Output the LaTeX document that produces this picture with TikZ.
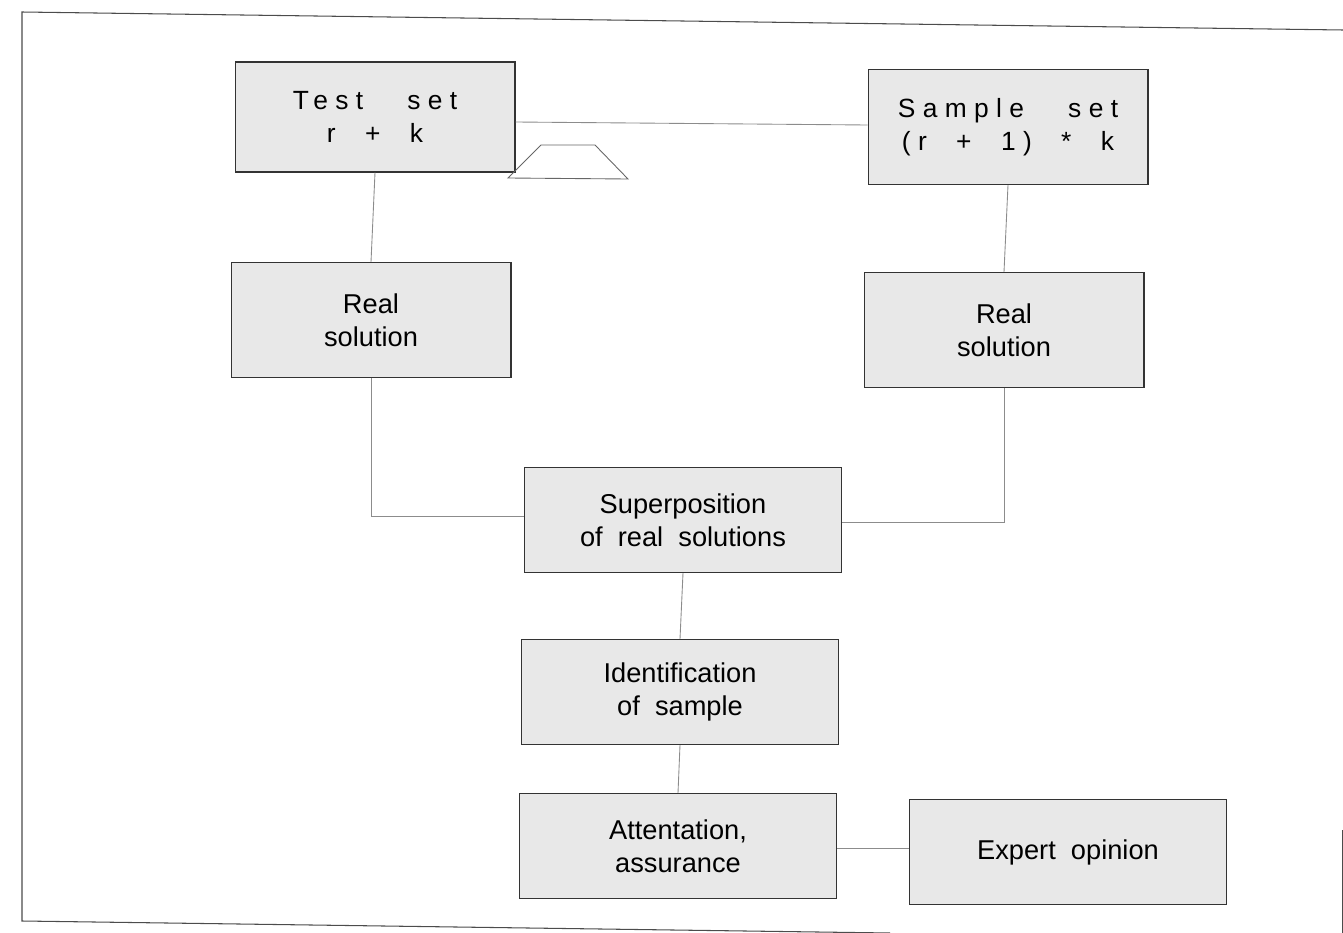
\documentclass[tikz,border=0pt]{standalone}
\usepackage{fontspec}
\setmainfont{Liberation Sans}
\usepackage{xcolor}
\usetikzlibrary{positioning}

\begin{document}
\begin{tikzpicture}[x=0.02cm,y=-0.02cm,
    box/.style={draw=black!80,fill=black!9,line width=0.6pt,minimum width=5.6cm,minimum height=2.2cm,
                align=center,font=\fontsize{15.5}{19}\selectfont},
    widebox/.style={box,minimum width=6.35cm,minimum height=2.1cm},
    spaced/.style={box,font=\fontsize{15}{18.5}\selectfont\addfontfeatures{LetterSpace=28}},
    link/.style={draw=black!45,line width=0.5pt},
    frame/.style={draw=black!70,line width=0.6pt}]
    \useasboundingbox (0,0) rectangle (1343,933);
    % page frame
    \draw[frame] (1343,30) -- (22,12) -- (22,921) -- (890,933);
    \draw[frame,line width=0.4pt] (1342,830) -- (1342,933);
    % boxes
    \node[spaced] (test) at (375,117) {Test\ \ \ set\\r\ \ +\ \ k};
    \node[spaced,minimum height=2.3cm] (sample) at (1008,127) {Sample\ \ \ set\\(r\ \ +\ \ 1)\ \ *\ \ k};
    \node[box,minimum height=2.3cm] (realL) at (371,320) {Real\\solution};
    \node[box,minimum height=2.3cm] (realR) at (1004,330) {Real\\solution};
    \node[widebox] (sup) at (683,520) {Superposition\\of\ \ real\ \ solutions};
    \node[widebox] (ident) at (680,692) {Identification\\of\ \ sample};
    \node[widebox] (att) at (678,846) {Attentation,\\assurance};
    \node[widebox] (expert) at (1068,852) {Expert\ \ opinion};
    % connectors
    \draw[link] ([yshift=-0.1cm]test.east) -- ([yshift=0.04cm]sample.west);
    \draw[black!60,line width=0.5pt] (508,178) -- (541,145) -- (595,145) -- (628,179) -- cycle;
    \draw[link] (test.south) -- (realL.north);
    \draw[link] (sample.south) -- (realR.north);
    \draw[link] (realL.south) |- ([yshift=0.08cm]sup.west);
    \draw[link] (realR.south) |- ([yshift=-0.04cm]sup.east);
    \draw[link] (sup.south) -- (ident.north);
    \draw[link] (ident.south) -- (att.north);
    \draw[link] ([yshift=-0.04cm]att.east) -- ([yshift=-0.04cm]att.east -| expert.west);
\end{tikzpicture}
\end{document}
